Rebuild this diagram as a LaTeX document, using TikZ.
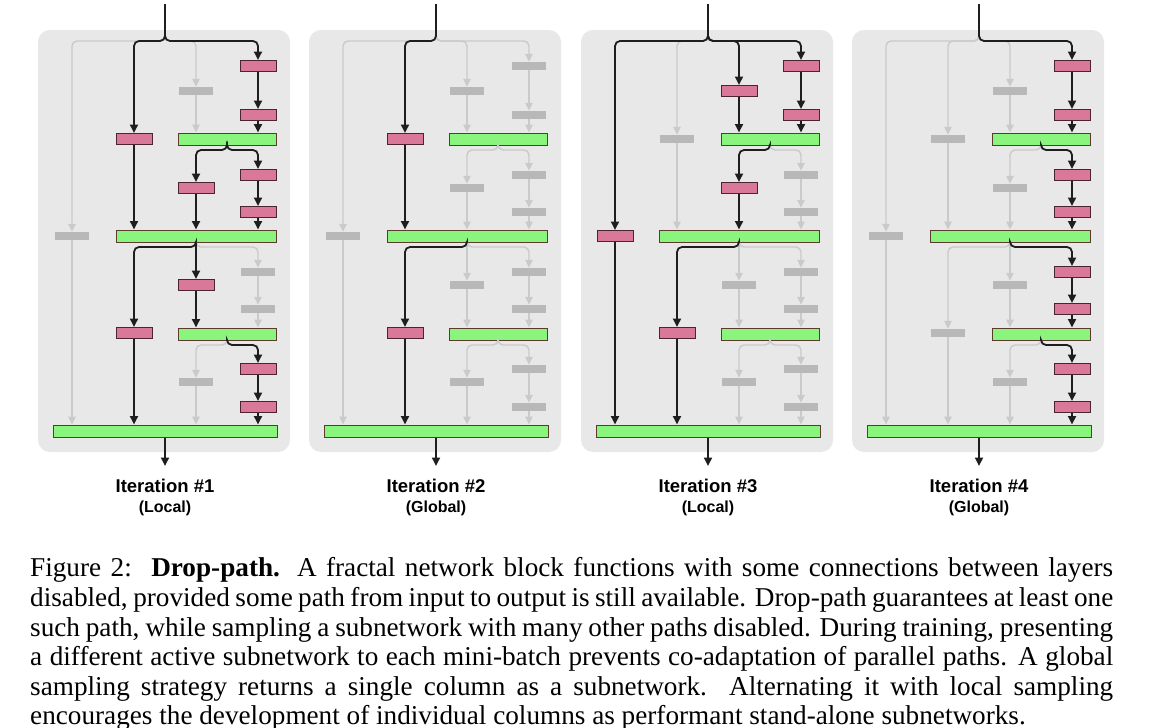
\documentclass[tikz,border=0pt]{standalone}
\usepackage{fontspec}
\setmainfont{Liberation Serif}
\setsansfont{Liberation Sans}
\usetikzlibrary{arrows.meta}
\definecolor{panelbg}{HTML}{E8E8E8}
\definecolor{pinkf}{HTML}{D97898}
\definecolor{pinkd}{HTML}{4A2430}
\definecolor{greenf}{HTML}{8AF57C}
\definecolor{greend}{HTML}{5A3B2E}
\definecolor{grayf}{HTML}{B8B8B8}
\definecolor{grayl}{HTML}{CACACA}
\definecolor{linec}{HTML}{1E1E1E}
\tikzset{
  act/.style={draw=linec, line width=1.8pt, rounded corners=5pt, -{Triangle[length=8.5pt,width=8pt]}},
  ina/.style={draw=grayl, line width=1.4pt, rounded corners=5pt, -{Triangle[length=8pt,width=7.5pt]}},
  pconv/.style={rectangle, fill=pinkf, draw=pinkd, line width=1pt, minimum width=36pt, minimum height=11pt, inner sep=0pt},
  gconv/.style={rectangle, fill=grayf, draw=none, minimum width=34pt, minimum height=8pt, inner sep=0pt},
  joinbox/.style={rectangle, fill=greenf, draw=greend, line width=1pt, minimum height=12pt, inner sep=0pt},
  itlabel/.style={font=\sffamily\bfseries\fontsize{18.5}{20}\selectfont, inner sep=0pt},
  itsub/.style={font=\sffamily\bfseries\fontsize{16}{18}\selectfont, inner sep=0pt},
  capline/.style={anchor=base west, inner sep=0pt, font=\fontsize{27.2}{30}\selectfont},
}
\newcommand\alldefault{\tikzset{
  s-i1/.style=ina, s-i2/.style=ina, s-i3/.style=ina, s-i4/.style=ina,
  s-k4ab/.style=ina, s-k4bA/.style=ina, s-k3aA/.style=ina, s-k2aB/.style=ina, s-k1aD/.style=ina,
  s-kA3/.style=ina, s-kA4/.style=ina, s-k4cd/.style=ina, s-k4dB/.style=ina, s-k3bB/.style=ina,
  s-kB2/.style=ina, s-kB3/.style=ina, s-kB4/.style=ina, s-k4ef/.style=ina, s-k4fC/.style=ina,
  s-k3cC/.style=ina, s-k2bD/.style=ina,
  s-kC3/.style=ina, s-kC4/.style=ina, s-k4gh/.style=ina, s-k4hD/.style=ina, s-k3dD/.style=ina,
  n-c4a/.style=gconv, n-c4b/.style=gconv, n-c3a/.style=gconv, n-c2a/.style=gconv, n-c1a/.style=gconv,
  n-c4c/.style=gconv, n-c4d/.style=gconv, n-c3b/.style=gconv,
  n-c4e/.style=gconv, n-c4f/.style=gconv, n-c3c/.style=gconv, n-c2b/.style=gconv,
  n-c4g/.style=gconv, n-c4h/.style=gconv, n-c3d/.style=gconv}}
\newcommand\conns{%
  \path[s-i1] (inp\p) -- (165,41) -- (72,41) -- (c1a\p.north);
  \path[s-i2] (inp\p) -- (165,41) -- (134,41) -- (c2a\p.north);
  \path[s-i3] (inp\p) -- (165,41) -- (196,41) -- (c3a\p.north);
  \path[s-i4] (inp\p) -- (165,41) -- (258,41) -- (c4a\p.north);
  \path[s-k4ab] (c4a\p) -- (c4b\p);
  \path[s-k4bA] (c4b\p.south) -- (c4b\p.south |- A\p.north);
  \path[s-k3aA] (c3a\p.south) -- (c3a\p.south |- A\p.north);
  \path[s-k2aB] (c2a\p.south) -- (c2a\p.south |- B\p.north);
  \path[s-k1aD] (c1a\p.south) -- (c1a\p.south |- D\p.north);
  \path[s-kA3] (A\p.south) -- (227,150) -- (196,150) -- (c3b\p.north);
  \path[s-kA4] (A\p.south) -- (227,150) -- (258,150) -- (c4c\p.north);
  \path[s-k4cd] (c4c\p) -- (c4d\p);
  \path[s-k4dB] (c4d\p.south) -- (c4d\p.south |- B\p.north);
  \path[s-k3bB] (c3b\p.south) -- (c3b\p.south |- B\p.north);
  \path[s-kB2] (B\p.south) -- (196,247) -- (134,247) -- (c2b\p.north);
  \path[s-kB3] (B\p.south) -- (c3c\p.north);
  \path[s-kB4] (B\p.south) -- (196,247) -- (258,247) -- (c4e\p.north);
  \path[s-k4ef] (c4e\p) -- (c4f\p);
  \path[s-k4fC] (c4f\p.south) -- (c4f\p.south |- C\p.north);
  \path[s-k3cC] (c3c\p.south) -- (c3c\p.south |- C\p.north);
  \path[s-k2bD] (c2b\p.south) -- (c2b\p.south |- D\p.north);
  \path[s-kC3] (C\p.south) -- (227,345) -- (196,345) -- (c3d\p.north);
  \path[s-kC4] (C\p.south) -- (227,345) -- (258,345) -- (c4g\p.north);
  \path[s-k4gh] (c4g\p) -- (c4h\p);
  \path[s-k4hD] (c4h\p.south) -- (c4h\p.south |- D\p.north);
  \path[s-k3dD] (c3d\p.south) -- (c3d\p.south |- D\p.north);
}
\newcommand\panelbody[2]{%
  \fill[panelbg, rounded corners=12pt] (38,30) rectangle (290,452);
  \coordinate (inp\p) at (165,4);
  \coordinate (out\p) at (165,466);
  \node[joinbox, minimum width=98pt] (A\p) at (227,139) {};
  \node[joinbox, minimum width=160pt] (B\p) at (196,236) {};
  \node[joinbox, minimum width=98pt] (C\p) at (227,334) {};
  \node[joinbox, minimum width=224pt] (D\p) at (165,431) {};
  \node[n-c4a] (c4a\p) at (258,66) {};
  \node[n-c4b] (c4b\p) at (258,115) {};
  \node[n-c3a] (c3a\p) at (196,91) {};
  \node[n-c2a] (c2a\p) at (134,139) {};
  \node[n-c1a] (c1a\p) at (72,236) {};
  \node[n-c4c] (c4c\p) at (258,175) {};
  \node[n-c4d] (c4d\p) at (258,212) {};
  \node[n-c3b] (c3b\p) at (196,188) {};
  \node[n-c4e] (c4e\p) at (258,272) {};
  \node[n-c4f] (c4f\p) at (258,309) {};
  \node[n-c3c] (c3c\p) at (196,285) {};
  \node[n-c2b] (c2b\p) at (134,333) {};
  \node[n-c4g] (c4g\p) at (258,369) {};
  \node[n-c4h] (c4h\p) at (258,407) {};
  \node[n-c3d] (c3d\p) at (196,382) {};
  \begin{scope}[act/.style={}]\conns\end{scope}
  \begin{scope}[ina/.style={}]\conns\end{scope}
  \path[act] (D\p.south) -- (out\p);
  \node[itlabel] (lab\p) at (165,486) {Iteration \##1};
  \node[itsub] (sub\p) at (165,508) {(#2)};
}
\begin{document}
\begin{tikzpicture}[x=1pt,y=-1pt]
\useasboundingbox (0,0) rectangle (1175,728);
\fill[white] (0,0) rectangle (1175,728);
% panel 1 (local)
\begin{scope}[xshift=0pt]
  \def\p{1}\alldefault
  \tikzset{s-i2/.style=act, s-i4/.style=act, s-k4ab/.style=act, s-k4bA/.style=act, s-k2aB/.style=act,
    s-kA3/.style=act, s-kA4/.style=act, s-k4cd/.style=act, s-k4dB/.style=act, s-k3bB/.style=act,
    s-kB2/.style=act, s-kB3/.style=act, s-k3cC/.style=act, s-k2bD/.style=act,
    s-kC4/.style=act, s-k4gh/.style=act, s-k4hD/.style=act,
    n-c4a/.style=pconv, n-c4b/.style=pconv, n-c2a/.style=pconv, n-c3b/.style=pconv,
    n-c4c/.style=pconv, n-c4d/.style=pconv, n-c3c/.style=pconv, n-c2b/.style=pconv,
    n-c4g/.style=pconv, n-c4h/.style=pconv}
  \panelbody{1}{Local}
\end{scope}
% panel 2 (global)
\begin{scope}[xshift=271pt]
  \def\p{2}\alldefault
  \tikzset{s-i2/.style=act, s-k2aB/.style=act, s-kB2/.style=act, s-k2bD/.style=act,
    n-c2a/.style=pconv, n-c2b/.style=pconv}
  \panelbody{2}{Global}
\end{scope}
% panel 3 (local)
\begin{scope}[xshift=543pt]
  \def\p{3}\alldefault
  \tikzset{s-i1/.style=act, s-i3/.style=act, s-i4/.style=act, s-k4ab/.style=act, s-k4bA/.style=act,
    s-k3aA/.style=act, s-k1aD/.style=act, s-kA3/.style=act, s-k3bB/.style=act,
    s-kB2/.style=act, s-k2bD/.style=act,
    n-c1a/.style=pconv, n-c3a/.style=pconv, n-c4a/.style=pconv, n-c4b/.style=pconv,
    n-c3b/.style=pconv, n-c2b/.style=pconv}
  \panelbody{3}{Local}
\end{scope}
% panel 4 (global)
\begin{scope}[xshift=814pt]
  \def\p{4}\alldefault
  \tikzset{s-i4/.style=act, s-k4ab/.style=act, s-k4bA/.style=act, s-kA4/.style=act,
    s-k4cd/.style=act, s-k4dB/.style=act, s-kB4/.style=act, s-k4ef/.style=act, s-k4fC/.style=act,
    s-kC4/.style=act, s-k4gh/.style=act, s-k4hD/.style=act,
    n-c4a/.style=pconv, n-c4b/.style=pconv, n-c4c/.style=pconv, n-c4d/.style=pconv,
    n-c4e/.style=pconv, n-c4f/.style=pconv, n-c4g/.style=pconv, n-c4h/.style=pconv}
  \panelbody{4}{Global}
\end{scope}
% caption
\node[capline] (cap1) at (30,576) {\makebox[1083pt][s]{Figure 2:\hskip 10pt\ \textbf{Drop-path.} A fractal network block functions with some connections between layers}};
\node[capline] (cap2) at (30,606) {\makebox[1083pt][s]{disabled, provided some path from input to output is still available. Drop-path guarantees at least one}};
\node[capline] (cap3) at (30,636) {\makebox[1083pt][s]{such path, while sampling a subnetwork with many other paths disabled. During training, presenting}};
\node[capline] (cap4) at (30,665) {\makebox[1083pt][s]{a different active subnetwork to each mini-batch prevents co-adaptation of parallel paths. A global}};
\node[capline] (cap5) at (30,695) {\makebox[1083pt][s]{sampling strategy returns a single column as a subnetwork.\ \ Alternating it with local sampling}};
\node[capline] (cap6) at (30,724) {encourages the development of individual columns as performant stand-alone subnetworks.};
\end{tikzpicture}
\end{document}
